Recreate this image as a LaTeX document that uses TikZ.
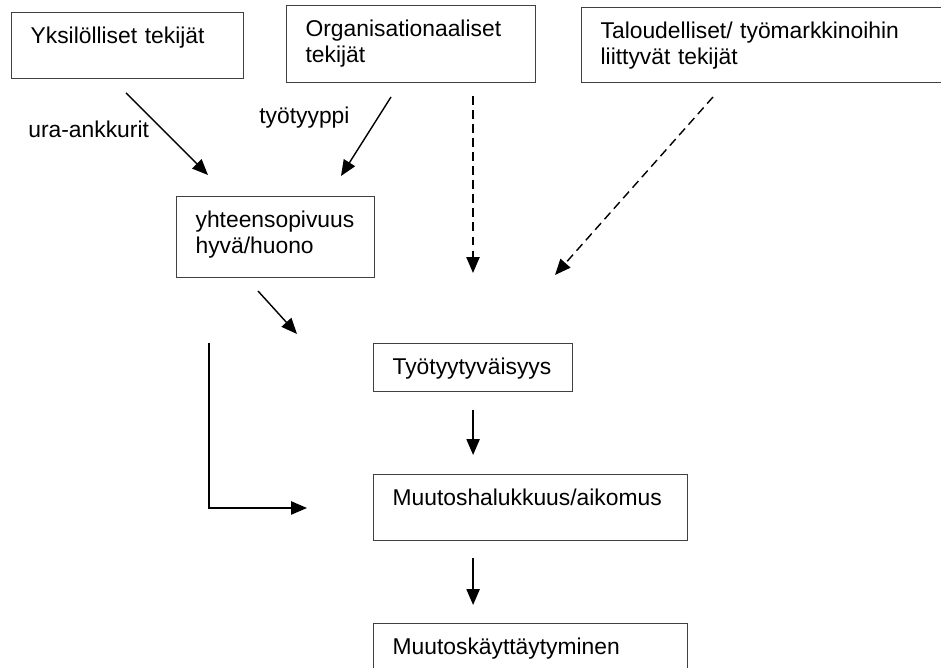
\documentclass[tikz,border=0pt]{standalone}
\usepackage{fontspec}
\setmainfont{Liberation Sans}
\usetikzlibrary{arrows.meta,calc}
\hyphenpenalty=10000
\exhyphenpenalty=10000

\begin{document}
\begin{tikzpicture}[
  x=0.02cm, y=-0.02cm,
  font=\fontsize{13}{14.8}\selectfont,
  box/.style={draw=black!75, line width=0.7pt, anchor=north west, align=left, inner xsep=0.38cm, inner ysep=0pt, text height=0.62cm},
  arr/.style={-{Triangle[length=9pt,width=7.5pt]}, line width=0.8pt},
  dsh/.style={arr, dash pattern=on 5pt off 3pt},
  lbl/.style={anchor=base west, inner sep=0pt}
]
  \useasboundingbox (0,0) rectangle (941,668);

  % factor boxes
  \node[box, text width=3.88cm, text depth=0.70cm] (yks) at (11,12) {Yksilölliset tekijät};
  \node[box, text width=4.22cm, text depth=0.92cm] (org) at (286,5) {Organisationaaliset\\tekijät};
  \node[box, text width=6.82cm, text depth=0.88cm] (tal) at (581,7) {Taloudelliset/ työmarkkinoihin\\liittyvät tekijät};

  \node[box, text width=3.20cm, text depth=1.00cm] (yht) at (176,196) {yhteensopivuus\\hyvä/huono};

  % chain
  \node[box, text width=3.22cm, text depth=0.34cm] (tyo) at (373,343) {Työtyytyväisyys};
  \node[box, text width=5.52cm, text depth=0.70cm] (muh) at (373,474) {Muutoshalukkuus/aikomus};
  \node[box, text width=5.52cm, text depth=0.72cm] (muk) at (373,623) {Muutoskäyttäytyminen};

  \node[lbl] (ura) at (28,138) {ura-ankkurit};
  \node[lbl] (tyyppi) at (259,124) {työtyyppi};

  % free arrow ends
  \coordinate (uraA) at (126,93);
  \coordinate (uraB) at (208,175);
  \coordinate (tyyA) at (391,97);
  \coordinate (tyyB) at (341,176);
  \coordinate (orgA) at (473,96);
  \coordinate (orgB) at (473,273);
  \coordinate (talA) at (713,97);
  \coordinate (talB) at (555,275);
  \coordinate (yhtA) at (258,291);
  \coordinate (yhtB) at (297,334);
  \coordinate (elbA) at (209,343);
  \coordinate (elbB) at (307,508);

  \draw[arr] (uraA) -- (uraB);
  \draw[arr] (tyyA) -- (tyyB);
  \draw[dsh] (orgA) -- (orgB);
  \draw[dsh] (talA) -- (talB);
  \draw[arr] (yhtA) -- (yhtB);
  \draw[arr] (elbA) |- (elbB);
  \draw[arr, shorten <=0.36cm, shorten >=0.38cm] (tyo.south) -- (tyo.south |- muh.north);
  \draw[arr, shorten <=0.34cm, shorten >=0.36cm] (tyo.south |- muh.south) -- (tyo.south |- muk.north);
\end{tikzpicture}
\end{document}
